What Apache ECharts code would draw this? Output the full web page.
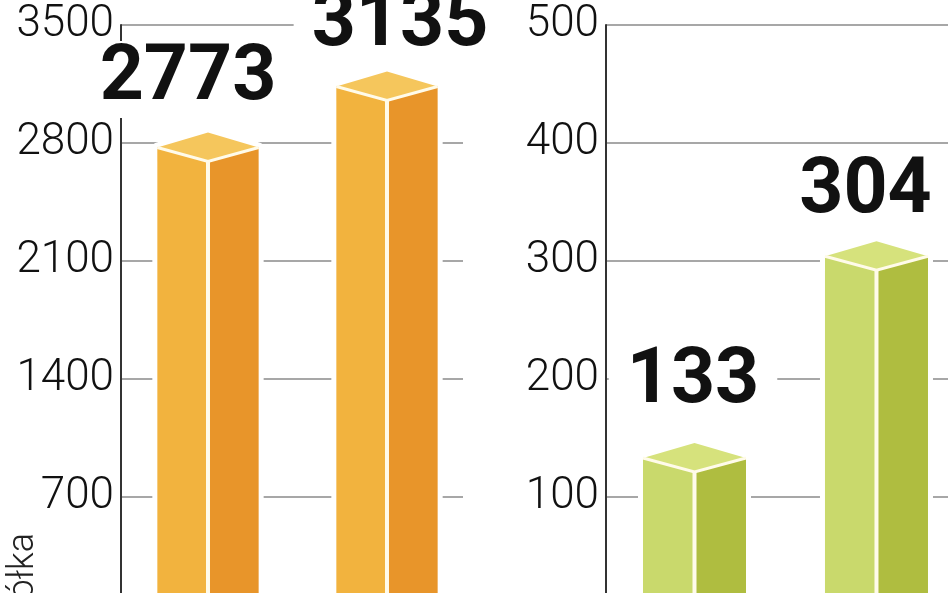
<!DOCTYPE html>
<html><head><meta charset="utf-8">
<script src="https://cdn.jsdelivr.net/npm/echarts@6/dist/echarts.min.js"></script>
<style>html,body{margin:0;padding:0;background:#fff}#c{width:948px;height:593px}</style>
</head><body><div id="c"></div><script>
// ---- data ----
const categories = [0, 1];
const leftValues = [2773, 3135];
const rightValues = [133, 304];
const leftTicks = [0, 700, 1400, 2100, 2800, 3500];
const rightTicks = [0, 100, 200, 300, 400, 500];
const axisTitle = 'ółka';

const chart = echarts.init(document.getElementById('c'));
const HW = 0.283;

function makeRender(colors, nudges) {
  return function (params, api) {
    const idx = api.value(0), val = api.value(1);
    const p = api.coord([idx, val]);
    const xl = api.coord([idx - HW, val])[0];
    const xr = api.coord([idx + HW, val])[0];
    const base = api.coord([idx, 0])[1];
    const cx = p[0], y = p[1];
    const up = 15, dn = 14;
    const nd = nudges[params.dataIndex];
    return {
      type: 'group',
      children: [
        { type: 'polygon', shape: { points: [[xl, base], [xl, y], [cx, y - up], [xr, y], [xr, base]] },
          style: { fill: '#fff', stroke: '#fff', lineWidth: 10, lineJoin: 'round' } },
        { type: 'polygon', shape: { points: [[xl, y], [cx, y + dn], [cx, base], [xl, base]] }, style: { fill: colors.left } },
        { type: 'polygon', shape: { points: [[cx, y + dn], [xr, y], [xr, base], [cx, base]] }, style: { fill: colors.right } },
        { type: 'polygon', shape: { points: [[xl, y], [cx, y - up], [xr, y], [cx, y + dn]] }, style: { fill: colors.top } },
        { type: 'polyline', shape: { points: [[xl, y], [cx, y + dn], [xr, y]] }, style: { stroke: '#fffbea', lineWidth: 3, fill: null } },
        { type: 'line', shape: { x1: cx, y1: y + dn, x2: cx, y2: base }, style: { stroke: '#fffbea', lineWidth: 4 } },
        { type: 'text', z2: 10, style: { text: String(val), x: cx + nd[0], y: y - 67 + nd[1], align: 'center', verticalAlign: 'middle',
            font: 'bold 77px Roboto', fill: '#111', backgroundColor: '#fff', padding: [0, 18] } }
      ]
    };
  };
}

function yAxisOpt(gi, ticks) {
  return {
    type: 'value', gridIndex: gi, min: ticks[0], max: ticks[ticks.length - 1], interval: ticks[1] - ticks[0],
    axisLine: { show: true, onZero: false, lineStyle: { color: '#333', width: 2 } },
    axisTick: { show: false },
    splitLine: { show: true, lineStyle: { color: '#8a8a8a', width: 1.5 } },
    axisLabel: { fontFamily: 'Roboto', fontWeight: 300, fontSize: 44, color: '#111', margin: 7, padding: [0, 0, 16, 0],
      formatter: v => String(v) }
  };
}

chart.setOption({
  animation: false,
  backgroundColor: '#fff',
  grid: [
    { left: 121, width: 342, top: 25, height: 590, containLabel: false, outerBoundsMode: 'none' },
    { left: 606, width: 342, top: 25, height: 590, containLabel: false, outerBoundsMode: 'none' }
  ],
  xAxis: [
    { type: 'value', gridIndex: 0, min: -0.486, max: 1.4246, show: false },
    { type: 'value', gridIndex: 1, min: -0.4863, max: 1.393, show: false }
  ],
  yAxis: [yAxisOpt(0, leftTicks), yAxisOpt(1, rightTicks)],
  series: [
    { type: 'custom', xAxisIndex: 0, yAxisIndex: 0, clip: false,
      data: categories.map((c, i) => [c, leftValues[i]]),
      renderItem: makeRender({ left: '#f2b33e', right: '#e8952a', top: '#f5c65c' }, [[-20, -1], [13, 6]]) },
    { type: 'custom', xAxisIndex: 1, yAxisIndex: 1, clip: false,
      data: categories.map((c, i) => [c, rightValues[i]]),
      renderItem: makeRender({ left: '#c9d96c', right: '#afbd40', top: '#d6e27c' }, [[-1.5, -8], [-11, 3]]) }
  ],
  graphic: [
    { type: 'text', x: 24, y: 533, rotation: Math.PI / 2,
      style: { text: axisTitle, font: '300 36px Roboto', fill: '#222', align: 'right', verticalAlign: 'middle' } }
  ]
});
</script></body></html>
